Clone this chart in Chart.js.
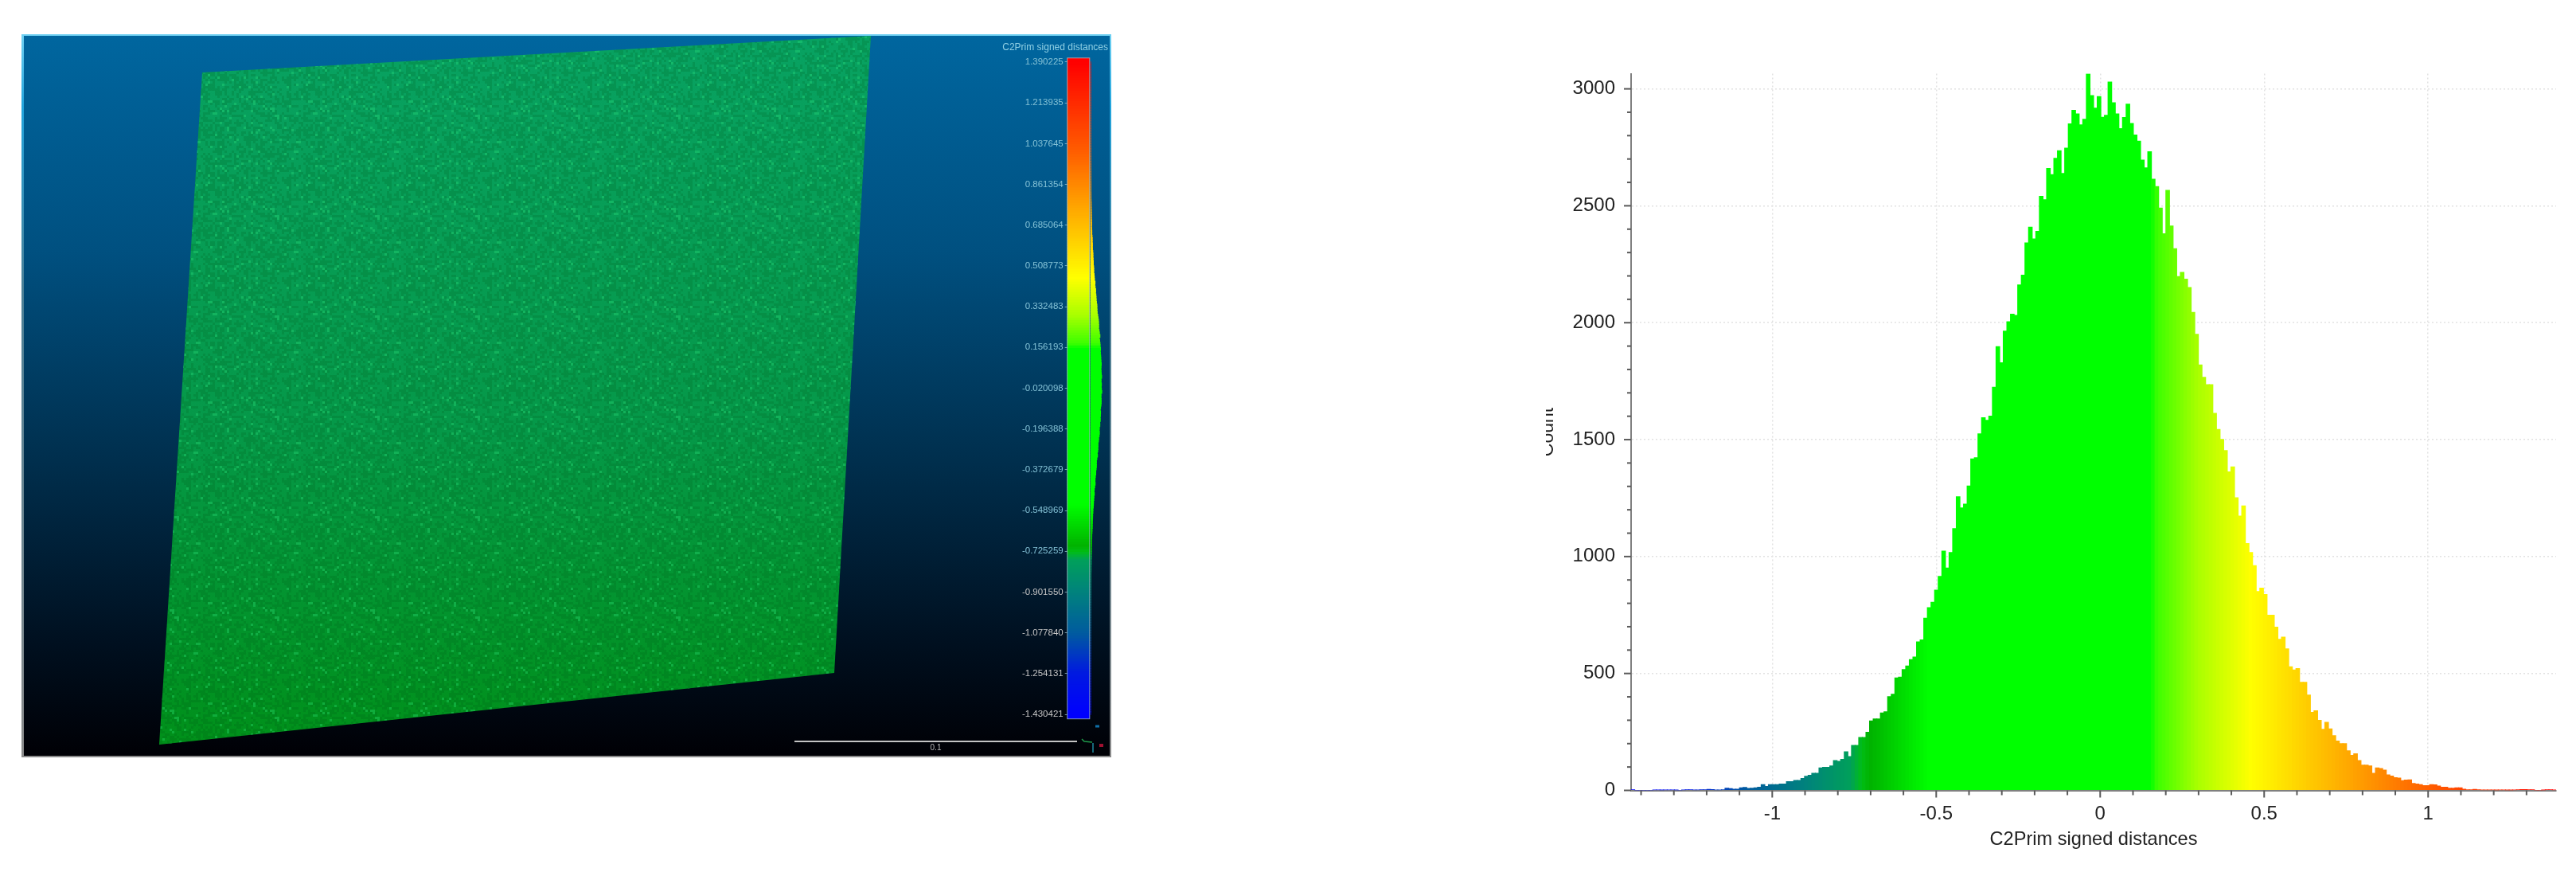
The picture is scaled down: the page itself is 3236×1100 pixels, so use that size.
<!DOCTYPE html>
<html>
<head>
<meta charset="utf-8">
<title>C2Prim signed distances</title>
<script src="https://cdn.jsdelivr.net/npm/chart.js@4"></script>
<style>
  html, body { margin: 0; background: #fff; overflow: hidden; }
  body { width: 3236px; height: 1100px; position: relative; }
  canvas { position: absolute; display: block; }
  #panel {
    position: absolute; left: 27px; top: 43px; width: 1369px; height: 908px;
    background: linear-gradient(#6fd0f2, #22a4dc 10%, #4a7f96 35%, #8a8a8a);
  }
  #viewChart { left: 30px; top: 45px; background: linear-gradient(#00669f, #005080 30%, #00304f 58%, #001020 84%, #000005); filter: blur(0.7px); }
  #scaleChart { left: 1240px; top: 45px; filter: blur(0.6px); }
  #histChart { left: 1942px; top: 60px; filter: blur(0.3px); }
</style>
</head>
<body>
<div id="panel"></div>
<canvas id="viewChart" width="1364" height="904"></canvas>
<canvas id="scaleChart" width="154" height="904"></canvas>
<canvas id="histChart" width="1294" height="1040"></canvas>
<script>
// Histogram, 256 bins
const xMin = -1.430421;
const xMax = 1.390225;
const counts = [
  3, 0, 0, 0, 0, 0, 2, 2, 1, 2,
  2, 2, 1, 0, 2, 3, 3, 2, 2, 3,
  3, 5, 4, 2, 2, 3, 10, 8, 6, 6,
  12, 13, 9, 10, 12, 14, 25, 18, 25, 25,
  25, 28, 28, 38, 38, 43, 43, 52, 61, 65,
  74, 74, 97, 99, 99, 105, 128, 125, 133, 166,
  145, 193, 193, 227, 227, 249, 298, 306, 306, 332,
  337, 402, 412, 482, 485, 517, 533, 560, 571, 636,
  644, 737, 782, 805, 857, 916, 1024, 952, 1018, 1120,
  1256, 1209, 1225, 1302, 1418, 1423, 1525, 1594, 1583, 1601,
  1725, 1898, 1829, 1965, 2005, 2037, 2032, 2162, 2204, 2342,
  2409, 2359, 2391, 2541, 2527, 2660, 2634, 2704, 2736, 2639,
  2747, 2851, 2909, 2894, 2847, 2871, 3065, 2972, 2918, 2968,
  2879, 2888, 3030, 2941, 2894, 2831, 2878, 2935, 2853, 2803,
  2777, 2696, 2663, 2732, 2614, 2583, 2491, 2381, 2567, 2414,
  2317, 2198, 2216, 2187, 2151, 2045, 1951, 1820, 1767, 1736,
  1736, 1613, 1544, 1502, 1454, 1363, 1384, 1252, 1174, 1217,
  1056, 1018, 962, 851, 866, 838, 750, 750, 699, 647,
  656, 606, 529, 516, 522, 463, 463, 408, 334, 341,
  300, 262, 292, 264, 235, 212, 201, 201, 170, 150,
  157, 128, 109, 109, 105, 74, 97, 94, 87, 67,
  62, 55, 53, 42, 45, 46, 30, 28, 25, 21,
  21, 25, 24, 19, 14, 14, 10, 10, 12, 12,
  6, 3, 3, 5, 3, 2, 2, 2, 2, 1,
  2, 2, 1, 1, 2, 3, 4, 4, 3, 3,
  0, 0, 1, 3, 3, 2
];

// Colour scale
const stopValues = [-1.43, -1.25, -1.08, -0.9, -0.76, -0.725, -0.7, -0.52, 0.155, 0.175, 0.3, 0.46, 0.8, 1.0, 1.39];
const stopColors = [
  [0, 0, 255], [0, 25, 225], [0, 90, 160], [0, 130, 125], [0, 160, 90], [0, 190, 20], [0, 178, 0],
  [0, 255, 0], [0, 255, 0], [60, 255, 0], [170, 255, 0], [255, 255, 0], [255, 155, 0], [255, 95, 0], [255, 0, 0]
];
const scaleTicks = [
  1.390225, 1.213935, 1.037645, 0.861354, 0.685064, 0.508773, 0.332483, 0.156193, -0.020098,
  -0.196388, -0.372679, -0.548969, -0.725259, -0.901550, -1.077840, -1.254131, -1.430421
];

// 3D view, in page pixels
const sheetX = [254, 1094, 1048, 200];
const sheetY = [91, 45, 845, 935];
const scaleBarX = [998, 1353];
const scaleBarY = [931, 931];
const gizmoGreenX = [1359, 1362, 1372];
const gizmoGreenY = [928, 931, 932];
const gizmoTealX = [1373, 1373];
const gizmoTealY = [933, 945];
const gizmoRedX = [1381, 1386];
const gizmoRedY = [936, 936];
const gizmoBlueX = [1376, 1381];
const gizmoBlueY = [912, 912];

const binWidth = (xMax - xMin) / counts.length;
const binCenters = counts.map((_, i) => xMin + (i + 0.5) * binWidth);
const maxCount = Math.max(...counts);

const colorFor = (v) => {
  if (v <= stopValues[0]) return `rgb(${stopColors[0].join(',')})`;
  for (let i = 1; i < stopValues.length; i++) {
    if (v <= stopValues[i]) {
      const t = (v - stopValues[i - 1]) / (stopValues[i] - stopValues[i - 1]);
      const c = stopColors[i].map((b, k) => Math.round(stopColors[i - 1][k] + (b - stopColors[i - 1][k]) * t));
      return `rgb(${c.join(',')})`;
    }
  }
  return `rgb(${stopColors[stopColors.length - 1].join(',')})`;
};

const pairs = (xs, ys) => xs.map((x, i) => ({ x, y: ys[i] }));

// Ticks of the histogram axes, long on the labelled values
const axisTicks = {
  id: 'axisTicks',
  afterDatasetsDraw(chart) {
    const { ctx, scales: { x, y }, chartArea } = chart;
    ctx.save();
    ctx.strokeStyle = '#5a5a5a';
    ctx.lineWidth = 2;
    x.ticks.forEach(t => {
      const px = x.getPixelForValue(t.value);
      const len = Math.round(t.value * 10) % 5 === 0 ? 9 : 6;
      ctx.beginPath();
      ctx.moveTo(px, chartArea.bottom);
      ctx.lineTo(px, chartArea.bottom + len);
      ctx.stroke();
    });
    y.ticks.forEach(t => {
      const py = y.getPixelForValue(t.value);
      const len = t.value % 500 === 0 ? 9 : 5;
      ctx.beginPath();
      ctx.moveTo(chartArea.left, py);
      ctx.lineTo(chartArea.left - len, py);
      ctx.stroke();
    });
    ctx.restore();
  }
};

new Chart(document.getElementById('histChart'), {
  type: 'bar',
  data: {
    datasets: [{
      data: pairs(binCenters, counts),
      backgroundColor: binCenters.map(colorFor),
      borderWidth: 0,
      barThickness: 5
    }]
  },
  options: {
    responsive: false,
    animation: false,
    devicePixelRatio: 1,
    layout: { padding: { top: 32.5, right: 25, bottom: 0, left: 0 } },
    plugins: { legend: { display: false }, tooltip: { enabled: false } },
    scales: {
      x: {
        type: 'linear',
        offset: false,
        min: xMin,
        max: xMax,
        afterFit: (s) => { s.height = 107.5; },
        border: { color: '#808080', width: 2, dash: [2, 3] },
        grid: {
          offset: false,
          lineWidth: 1.5,
          tickLength: 9,
          tickColor: 'transparent',
          color: (c) => Math.round(c.tick.value * 10) % 5 === 0 ? '#e2e2e2' : 'transparent'
        },
        ticks: {
          stepSize: 0.1,
          includeBounds: false,
          autoSkip: false,
          maxRotation: 0,
          padding: 6,
          color: '#222',
          font: { family: '"Liberation Sans"', size: 24 },
          callback: (v) => Math.round(v * 10) % 5 === 0 ? String(Math.round(v * 10) / 10) : ''
        },
        title: {
          display: true,
          text: 'C2Prim signed distances',
          color: '#222',
          font: { family: '"Liberation Sans"', size: 23.6 },
          padding: { top: 0, bottom: 31 }
        }
      },
      y: {
        min: 0,
        max: 3065,
        afterFit: (s) => { s.width = 107; },
        border: { color: '#808080', width: 2, dash: [2, 3] },
        grid: {
          lineWidth: 1.5,
          tickLength: 9,
          tickColor: 'transparent',
          color: (c) => c.tick.value % 500 === 0 ? '#e2e2e2' : 'transparent'
        },
        ticks: {
          stepSize: 100,
          includeBounds: false,
          autoSkip: false,
          padding: 11,
          color: '#222',
          font: { family: '"Liberation Sans"', size: 24 },
          callback: (v) => v % 500 === 0 ? String(v) : ''
        },
        title: {
          display: true,
          text: 'Count',
          color: '#222',
          font: { family: '"Liberation Sans"', size: 23 },
          padding: { top: -11, bottom: 0 }
        }
      }
    }
  },
  plugins: [axisTicks]
});

// Grainy texture laid over the sheet, a fixed tile so it repeats like the point grid
const grainPattern = (ctx) => {
  const tile = document.createElement('canvas');
  tile.width = tile.height = 126;
  const t = tile.getContext('2d');
  let seed = 12345;
  const next = () => {
    seed = (seed * 1103515 + 12345) % 2147483648;
    return seed / 2147483648;
  };
  for (let y = 0; y < 126; y += 3) {
    for (let x = 0; x < 126; x += 3) {
      const n = next();
      if (n < 0.06) t.fillStyle = 'rgba(50,235,130,0.3)';
      else if (n < 0.5) t.fillStyle = 'rgba(0,80,20,0.16)';
      else continue;
      t.fillRect(x, y, 3, 3);
    }
  }
  return ctx.createPattern(tile, 'repeat');
};

const viewCanvas = document.getElementById('viewChart');
const sheetFill = viewCanvas.getContext('2d').createLinearGradient(0, 0, 0, 904);
sheetFill.addColorStop(0, '#08a262');
sheetFill.addColorStop(0.55, '#059848');
sheetFill.addColorStop(1, '#009018');

const thinLine = (xs, ys, color, width) => ({
  data: pairs(xs, ys),
  showLine: true,
  borderColor: color,
  borderWidth: width,
  pointRadius: 0,
  fill: false
});

// Label under the scale bar
const scaleBarLabel = {
  id: 'scaleBarLabel',
  afterDatasetsDraw(chart) {
    const { ctx, scales: { x, y } } = chart;
    ctx.save();
    ctx.fillStyle = '#b8b8b8';
    ctx.font = '10px "Liberation Sans"';
    ctx.textAlign = 'center';
    ctx.textBaseline = 'middle';
    ctx.fillText('0.1', x.getPixelForValue((scaleBarX[0] + scaleBarX[1]) / 2), y.getPixelForValue(scaleBarY[0] + 8));
    ctx.restore();
  }
};

new Chart(viewCanvas, {
  type: 'scatter',
  data: {
    datasets: [
      thinLine(scaleBarX, scaleBarY, '#c4c4c4', 2),
      thinLine(gizmoGreenX, gizmoGreenY, '#1f9a4a', 1.5),
      thinLine(gizmoTealX, gizmoTealY, '#1f8aa0', 1.5),
      thinLine(gizmoRedX, gizmoRedY, '#a01030', 4),
      thinLine(gizmoBlueX, gizmoBlueY, '#0f6fa8', 3),
      { data: pairs(sheetX, sheetY), showLine: true, fill: 'shape', backgroundColor: grainPattern(viewCanvas.getContext('2d')), borderWidth: 0, pointRadius: 0 },
      { data: pairs(sheetX, sheetY), showLine: true, fill: 'shape', backgroundColor: sheetFill, borderWidth: 0, pointRadius: 0 }
    ]
  },
  options: {
    responsive: false,
    animation: false,
    devicePixelRatio: 1,
    layout: { padding: 0 },
    plugins: { legend: { display: false }, tooltip: { enabled: false } },
    scales: {
      x: { display: false, min: 30, max: 1394 },
      y: { display: false, min: 45, max: 949, reverse: true }
    }
  },
  plugins: [scaleBarLabel]
});

// Colour bar frame and its caption
const scaleFrame = {
  id: 'scaleFrame',
  afterDatasetsDraw(chart) {
    const { ctx, scales: { x }, chartArea } = chart;
    ctx.save();
    ctx.strokeStyle = 'rgba(170,195,205,0.75)';
    ctx.lineWidth = 1;
    ctx.strokeRect(x.getPixelForValue(0), chartArea.top, x.getPixelForValue(1) - x.getPixelForValue(0), chartArea.bottom - chartArea.top);
    ctx.fillStyle = '#8fd0e4';
    ctx.font = '12px "Liberation Sans"';
    ctx.textAlign = 'right';
    ctx.textBaseline = 'middle';
    ctx.fillText('C2Prim signed distances', 152, 15);
    ctx.restore();
  }
};

// Colour bar steps and the sideways copy of the histogram next to it
const barLevels = [-1.4445, -1.4385, ...binCenters, 1.3985, 1.4045];

new Chart(document.getElementById('scaleChart'), {
  type: 'bar',
  data: {
    datasets: [
      {
        data: barLevels.map(v => ({ x: [0, 1], y: v })),
        backgroundColor: barLevels.map(colorFor),
        borderWidth: 0,
        barThickness: 4
      },
      {
        data: binCenters.map((v, i) => ({ x: [1.05, 1.05 + counts[i] / maxCount * 0.5], y: v })),
        backgroundColor: binCenters.map(colorFor),
        borderWidth: 0,
        barThickness: 4
      }
    ]
  },
  options: {
    indexAxis: 'y',
    responsive: false,
    animation: false,
    devicePixelRatio: 1,
    grouped: false,
    layout: { padding: { top: 27.8, right: 3, bottom: 46.3, left: 0 } },
    plugins: { legend: { display: false }, tooltip: { enabled: false } },
    scales: {
      x: { display: false, min: 0, max: 1.79 },
      y: {
        type: 'linear',
        offset: false,
        min: -1.45,
        max: 1.408,
        afterFit: (s) => { s.width = 100.7; },
        afterBuildTicks: (s) => { s.ticks = scaleTicks.map(value => ({ value })); },
        border: { display: false },
        grid: { offset: false, drawOnChartArea: false, tickLength: 3, tickColor: 'rgba(160,200,215,0.7)' },
        ticks: {
          autoSkip: false,
          padding: 2,
          font: { family: '"Liberation Sans"', size: 11.5 },
          color: (c) => c.tick.value < -0.8 ? '#c6c6c6' : '#84c2d6',
          callback: (v) => v.toFixed(6)
        }
      }
    }
  },
  plugins: [scaleFrame]
});
</script>
</body>
</html>
